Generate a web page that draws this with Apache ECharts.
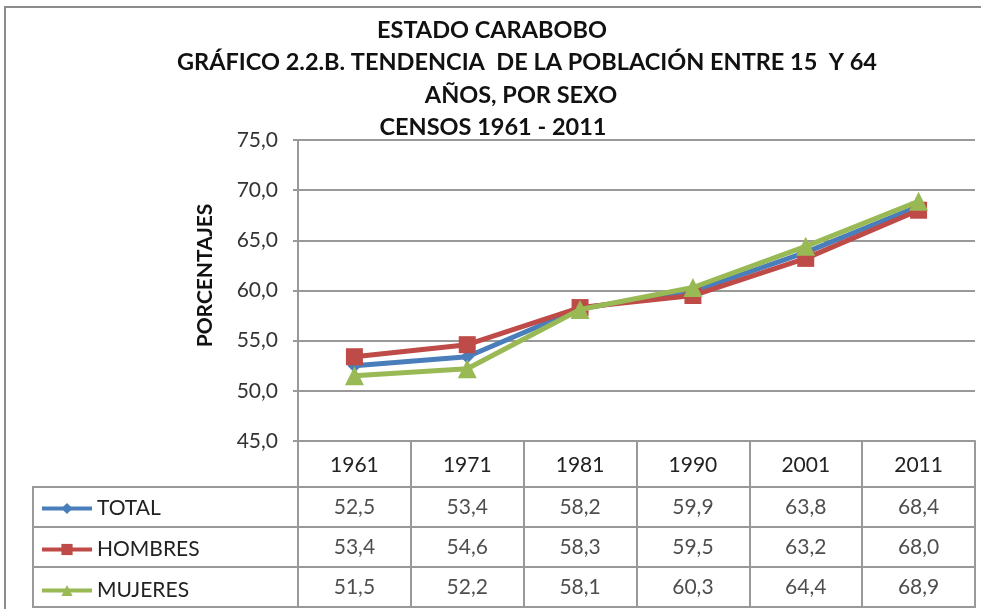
<!DOCTYPE html>
<html>
<head>
<meta charset="utf-8">
<script src="https://cdn.jsdelivr.net/npm/echarts@6/dist/echarts.min.js"></script>
<style>
  html, body { margin: 0; padding: 0; background: #fff; }
  #main { width: 981px; height: 609px; }
</style>
</head>
<body>
<div id="main"></div>
<script type="text/javascript">
  // datos del grafico
  var years = ['1961', '1971', '1981', '1990', '2001', '2011'];
  var seriesNames = ['TOTAL', 'HOMBRES', 'MUJERES'];
  var total = [52.5, 53.4, 58.2, 59.9, 63.8, 68.4];
  var hombres = [53.4, 54.6, 58.3, 59.5, 63.2, 68.0];
  var mujeres = [51.5, 52.2, 58.1, 60.3, 64.4, 68.9];
  var yMin = 45, yMax = 75, yStep = 5;
  var titleLines = [
    'ESTADO CARABOBO',
    'GRÁFICO 2.2.B. TENDENCIA  DE LA POBLACIÓN ENTRE 15  Y 64',
    'AÑOS, POR SEXO',
    'CENSOS 1961 - 2011'
  ];

  var colors = ['#4A7EBB', '#BE4B48', '#98B954'];
  var symbols = ['diamond', 'rect', 'triangle'];
  var symbolSizes = [14, 17, 19];
  var valuesList = [total, hombres, mujeres];
  var font = 'Lato, "Open Sans", sans-serif';
  var gridColor = '#999';

  function coma(v) {
    return v.toFixed(1).replace('.', ',');
  }

  var myChart = echarts.init(document.getElementById('main'));

  // cada linea del titulo con su propio centro, como en el original
  var titleCenters = [492, 527, 521, 493];
  var titles = [];
  for (let i = 0; i < titleLines.length; i++) {
    titles.push({
      text: titleLines[i],
      left: titleCenters[i],
      textAlign: 'center',
      top: 16.5 + i * 32.3,
      padding: 0,
      textStyle: {
        fontFamily: font,
        fontWeight: 'bold',
        fontSize: 23.5,
        lineHeight: 28,
        color: '#111'
      }
    });
  }

  var series = [];
  for (let s = 0; s < seriesNames.length; s++) {
    series.push({
      name: seriesNames[s],
      type: 'line',
      xAxisIndex: 0,
      yAxisIndex: 0,
      data: valuesList[s],
      symbol: symbols[s],
      symbolSize: symbolSizes[s],
      lineStyle: { width: 5, color: colors[s] },
      itemStyle: { color: colors[s] },
      z: 3 + s
    });
  }

  // celdas de la tabla de datos
  var tableData = [];
  for (let s = 0; s < seriesNames.length; s++) {
    for (let i = 0; i < years.length; i++) {
      tableData.push([years[i], seriesNames[s], valuesList[s][i]]);
    }
  }
  series.push({
    name: 'tabla',
    type: 'scatter',
    xAxisIndex: 1,
    yAxisIndex: 1,
    symbolSize: 0,
    silent: true,
    data: tableData,
    label: {
      show: true,
      position: 'inside',
      fontFamily: font,
      fontSize: 21,
      color: '#222',
      formatter: function (p) { return coma(p.value[2]); }
    }
  });

  var option = {
    animation: false,
    color: colors,
    title: titles,
    legend: {
      data: seriesNames,
      orient: 'vertical',
      left: 35,
      top: 493,
      itemWidth: 50,
      itemHeight: 14,
      itemGap: 20,
      selectedMode: false,
      lineStyle: { width: 4 },
      textStyle: { fontFamily: font, fontSize: 21, lineHeight: 20, color: '#222' }
    },
    graphic: [{
      type: 'rect',
      shape: { x: 5, y: 7, width: 1000, height: 640 },
      style: { fill: 'none', stroke: '#8c8c8c', lineWidth: 2 },
      silent: true
    }],
    grid: [
      { left: 298, top: 140, width: 677, height: 301 },
      { left: 298, top: 487, width: 677, height: 120, show: true, borderColor: gridColor, borderWidth: 2 },
      { left: 33, top: 487, width: 265, height: 120, show: true, borderColor: gridColor, borderWidth: 2 }
    ],
    xAxis: [
      {
        type: 'category',
        gridIndex: 0,
        data: years,
        boundaryGap: true,
        axisLine: { lineStyle: { color: gridColor, width: 2 } },
        axisTick: { show: true, interval: 0, length: 46, lineStyle: { color: gridColor, width: 2 } },
        axisLabel: { margin: 24, verticalAlign: 'middle', fontFamily: font, fontSize: 21, color: '#222' },
        splitLine: { show: false }
      },
      {
        type: 'category',
        gridIndex: 1,
        data: years,
        boundaryGap: true,
        axisLine: { show: false },
        axisTick: { show: false },
        axisLabel: { show: false },
        splitLine: { show: true, interval: 0, lineStyle: { color: gridColor, width: 2 } }
      }
    ],
    yAxis: [
      {
        type: 'value',
        gridIndex: 0,
        min: yMin,
        max: yMax,
        interval: yStep,
        name: 'PORCENTAJES',
        nameLocation: 'middle',
        nameGap: 82,
        nameTextStyle: { fontFamily: font, fontWeight: 'bold', fontSize: 21, color: '#111', padding: [0, 0, 0, 30] },
        axisLine: { show: true, lineStyle: { color: gridColor, width: 2 } },
        axisTick: { show: true, length: 5, lineStyle: { color: gridColor, width: 2 } },
        axisLabel: { margin: 20, fontFamily: font, fontSize: 21, color: '#333', formatter: coma },
        splitLine: { show: true, lineStyle: { color: gridColor, width: 2 } }
      },
      {
        type: 'category',
        gridIndex: 1,
        data: seriesNames,
        inverse: true,
        boundaryGap: true,
        axisLine: { show: true, lineStyle: { color: gridColor, width: 2 } },
        axisTick: { show: true, interval: 0, length: 265, lineStyle: { color: gridColor, width: 2 } },
        axisLabel: { show: false },
        splitLine: { show: true, interval: 0, lineStyle: { color: gridColor, width: 2 } }
      }
    ],
    series: series
  };
  myChart.setOption(option);
</script>
</body>
</html>
